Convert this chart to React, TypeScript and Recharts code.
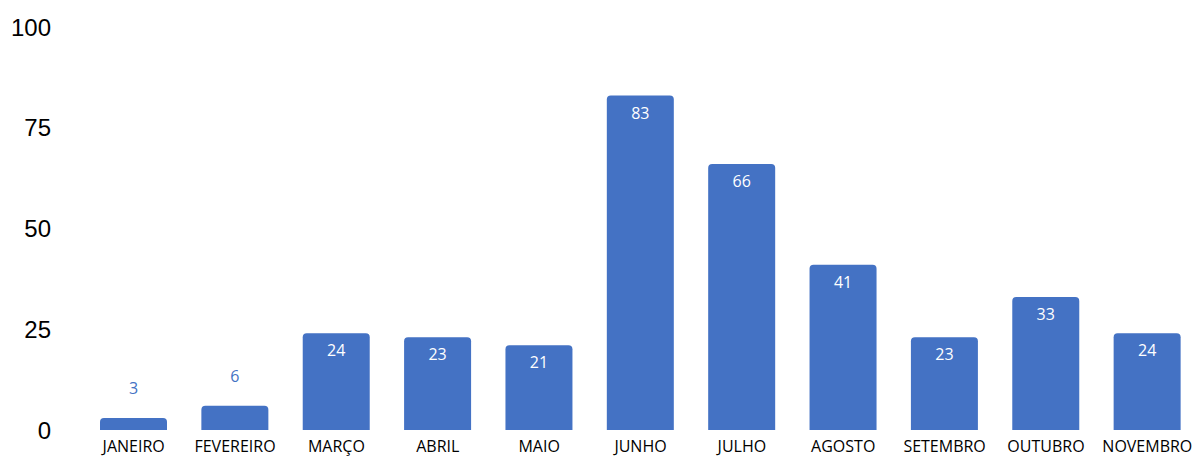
import { BarChart, Bar, XAxis, YAxis, LabelList } from 'recharts';

const meses = ['JANEIRO', 'FEVEREIRO', 'MARÇO', 'ABRIL', 'MAIO', 'JUNHO', 'JULHO', 'AGOSTO', 'SETEMBRO', 'OUTUBRO', 'NOVEMBRO'];
const valores = [3, 6, 24, 23, 21, 83, 66, 41, 23, 33, 24];
const yTicks = [0, 25, 50, 75, 100];

const data = meses.map((mes, i) => ({ mes, valor: valores[i] }));

const BLUE = '#4472C4';
const labelFont = '"Open Sans", sans-serif';

function ValueLabel(props: any) {
  const { x, y, width, value } = props;
  const cx = x + width / 2;
  if (value < 10) {
    return (
      <text x={cx} y={y - 30} fill={BLUE} fontSize={16} fontFamily={labelFont} textAnchor="middle" dominantBaseline="central">
        {value}
      </text>
    );
  }
  return (
    <text x={cx} y={y + 17} fill="#FFFFFF" fontSize={16} fontFamily={labelFont} textAnchor="middle" dominantBaseline="central">
      {value}
    </text>
  );
}

export default function App() {
  return (
    <div style={{ position: 'absolute', left: 0, top: 0, width: 1195, height: 456, overflow: 'hidden', background: '#fff' }}>
      <BarChart width={1210} height={470} data={data} margin={{ top: 27, right: 12, left: 0, bottom: 14 }} barSize={67}>
        <XAxis
          dataKey="mes"
          axisLine={false}
          tickLine={false}
          interval={0}
          tickMargin={5}
          tick={{ fill: '#000', fontSize: 16, fontFamily: labelFont }}
          height={26}
        />
        <YAxis
          domain={[0, 100]}
          ticks={yTicks}
          axisLine={false}
          tickLine={false}
          tickMargin={26}
          width={83}
          tick={{ fill: '#000', fontSize: 24, fontFamily: '"Liberation Sans", Arial, sans-serif' }}
        />
        <Bar dataKey="valor" fill={BLUE} radius={[4, 4, 0, 0]} isAnimationActive={false}>
          <LabelList dataKey="valor" content={ValueLabel} />
        </Bar>
      </BarChart>
    </div>
  );
}
